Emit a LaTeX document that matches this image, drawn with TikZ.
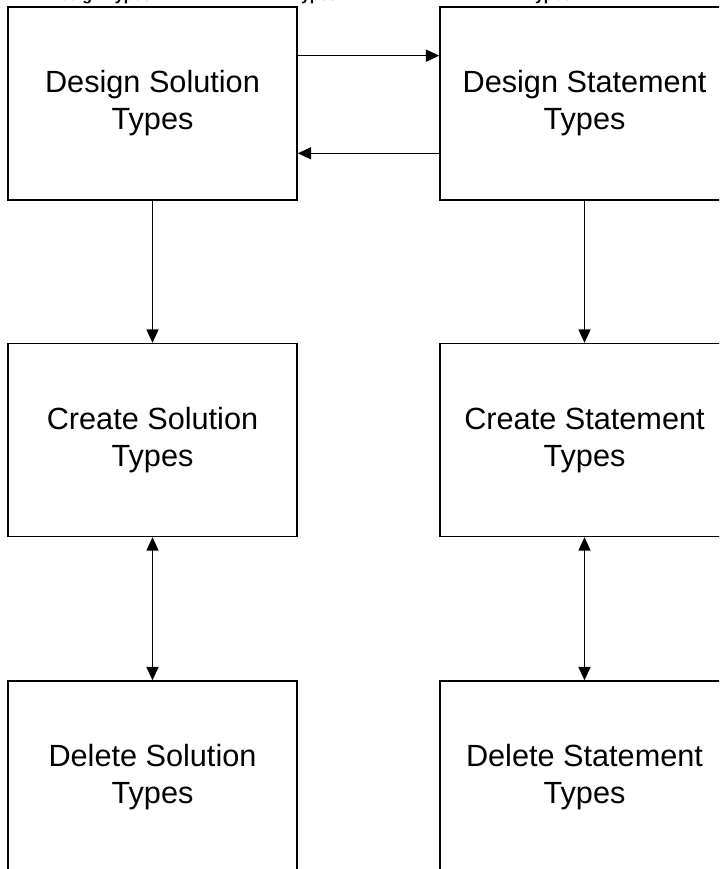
\documentclass[tikz,border=0pt]{standalone}
\usepackage{fontspec}
\setmainfont{Liberation Sans}
\usetikzlibrary{arrows.meta,calc}
\tikzset{
  box/.style={draw, line width=1.1pt, minimum width=216.75pt, minimum height=144.75pt,
    inner sep=0pt, align=center, font=\fontsize{23}{27.75}\selectfont},
  conn/.style={line width=1.1pt, arrows={-Triangle[length=10pt,width=9pt]}},
  biconn/.style={line width=1.1pt, arrows={Triangle[length=10pt,width=9pt]-Triangle[length=10pt,width=9pt]}},
  titlefrag/.style={anchor=base, inner sep=0pt, font=\bfseries\fontsize{12}{14}\selectfont}
}
\begin{document}
\begin{tikzpicture}[x=0.75pt,y=-0.75pt]
\useasboundingbox (0,0) rectangle (719,869);
\clip (0,0) rectangle (719,869);
\fill[white] (0,0) rectangle (719,869);
% clipped title line (only descenders visible)
\node[titlefrag] (t1) at (100,0) {Design Types};
\node[titlefrag] (t2) at (315,0) {Types};
\node[titlefrag] (t3) at (549,0) {Types};
% boxes
\node[box] (dsol) at (152.5,103.5) {Design Solution\\Types};
\node[box] (dst)  at (584.5,103.5) {Design Statement\\Types};
\node[box] (csol) at (152.5,440) {Create Solution\\Types};
\node[box] (cst)  at (584.5,440) {Create Statement\\Types};
\node[box] (delsol) at (152.5,777.5) {Delete Solution\\Types};
\node[box] (delst)  at (584.5,777.5) {Delete Statement\\Types};
% connectors
\coordinate (a1) at ($(dsol.north east)!0.254!(dsol.south east)$);
\coordinate (a2) at ($(dst.north west)!0.756!(dst.south west)$);
\draw[conn] (a1) -- (a1 -| dst.west);
\draw[conn] (a2) -- (a2 -| dsol.east);
\draw[conn] (dsol) -- (csol);
\draw[conn] (dst) -- (cst);
\draw[biconn] (csol) -- (delsol);
\draw[biconn] (cst) -- (delst);
\end{tikzpicture}
\end{document}
